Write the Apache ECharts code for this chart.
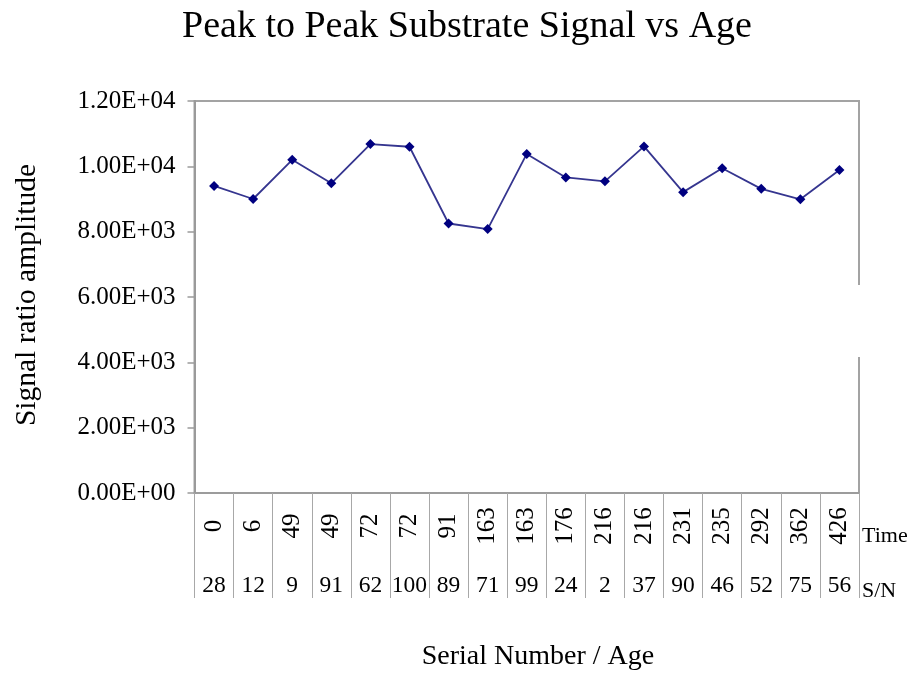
<!DOCTYPE html>
<html>
<head>
<meta charset="utf-8">
<script src="https://cdn.jsdelivr.net/npm/echarts@6/dist/echarts.min.js"></script>
<style>
  html, body { margin: 0; padding: 0; background: #fff; }
  #chart { width: 913px; height: 675px; }
</style>
</head>
<body>
<div id="chart"></div>
<script>
// Age of each unit at measurement (upper label row)
const timeLabels = ['0', '6', '49', '49', '72', '72', '91', '163', '163', '176', '216', '216', '231', '235', '292', '362', '426'];
// Serial number of each unit (lower label row)
const serialLabels = ['28', '12', '9', '91', '62', '100', '89', '71', '99', '24', '2', '37', '90', '46', '52', '75', '56'];
// Peak to peak signal ratio amplitude
const amplitude = [9400, 9000, 10200, 9480, 10680, 10600, 8250, 8080, 10380, 9660, 9540, 10610, 9210, 9940, 9310, 8990, 9890];
// Y axis range and step
const yMin = 0, yMax = 12000, yStep = 2000;

const serif = '"Liberation Serif", "Times New Roman", serif';

function sciLabel(v) {
  if (v === 0) return '0.00E+00';
  const exp = Math.floor(Math.log10(Math.abs(v)));
  const mant = v / Math.pow(10, exp);
  const e = String(Math.abs(exp)).padStart(2, '0');
  return mant.toFixed(2) + 'E' + (exp < 0 ? '-' : '+') + e;
}

const chart = echarts.init(document.getElementById('chart'), null, { renderer: 'canvas' });

chart.setOption({
  backgroundColor: '#ffffff',
  animation: false,
  grid: {
    left: 194.5, right: 54, top: 101, bottom: 182,
    show: true, borderColor: '#a3a3a3', borderWidth: 2, backgroundColor: 'transparent'
  },
  xAxis: [
    {
      type: 'category',
      data: timeLabels,
      position: 'bottom',
      boundaryGap: true,
      axisLine: { show: true, lineStyle: { color: '#9a9a9a', width: 1.5 } },
      axisTick: { show: true, interval: 0, length: 105, lineStyle: { color: '#a8a8a8', width: 1 } },
      axisLabel: {
        interval: 0, rotate: 90, align: 'center', verticalAlign: 'middle', margin: 33,
        fontFamily: serif, fontSize: 25, color: '#000'
      },
      splitLine: { show: false }
    },
    {
      type: 'category',
      data: serialLabels,
      position: 'bottom',
      boundaryGap: true,
      axisLine: { show: false },
      axisTick: { show: false },
      axisLabel: {
        interval: 0, verticalAlign: 'middle', margin: 93,
        fontFamily: serif, fontSize: 23.5, color: '#000'
      },
      splitLine: { show: false }
    }
  ],
  yAxis: {
    type: 'value',
    min: yMin, max: yMax, interval: yStep,
    axisLine: { show: true, lineStyle: { color: '#9a9a9a', width: 2 } },
    axisTick: { show: true, inside: false, length: 7, lineStyle: { color: '#9a9a9a', width: 1.5 } },
    axisLabel: {
      formatter: sciLabel, margin: 19,
      fontFamily: serif, fontSize: 25, color: '#000'
    },
    splitLine: { show: false }
  },
  series: [{
    type: 'line',
    xAxisIndex: 0,
    data: amplitude,
    symbol: 'diamond',
    symbolSize: 10,
    itemStyle: { color: '#000080' },
    lineStyle: { color: '#35358f', width: 1.8 },
    z: 5
  }],
  graphic: [
    {
      type: 'text', x: 467, y: 8,
      style: { text: 'Peak to Peak Substrate Signal vs Age', font: '38px ' + serif, fill: '#000', textAlign: 'center' }
    },
    {
      type: 'text', x: 27, y: 295, rotation: Math.PI / 2,
      style: { text: 'Signal ratio amplitude', font: '29.5px ' + serif, fill: '#000', textAlign: 'center', textVerticalAlign: 'middle' }
    },
    {
      type: 'text', x: 538, y: 657,
      style: { text: 'Serial Number / Age', font: '28px ' + serif, fill: '#000', textAlign: 'center', textVerticalAlign: 'middle' }
    },
    {
      type: 'text', x: 862, y: 536,
      style: { text: 'Time', font: '22px ' + serif, fill: '#000', textAlign: 'left', textVerticalAlign: 'middle' }
    },
    {
      type: 'text', x: 862, y: 591,
      style: { text: 'S/N', font: '22px ' + serif, fill: '#000', textAlign: 'left', textVerticalAlign: 'middle' }
    },
    {
      type: 'rect', z: 100,
      shape: { x: 854, y: 285, width: 10, height: 72 },
      style: { fill: '#ffffff' }
    }
  ]
});
</script>
</body>
</html>
